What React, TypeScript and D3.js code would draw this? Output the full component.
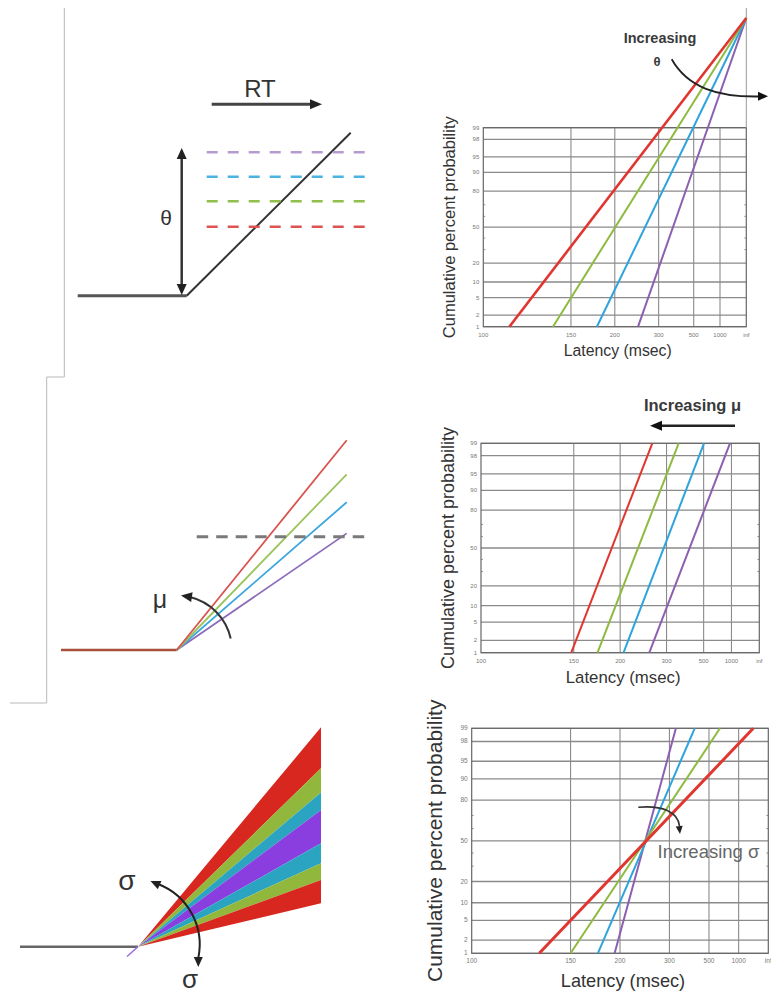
import React from "react";
import * as d3 from "d3";

// ---------- data ----------
const latencyTicks = [100, 150, 200, 300, 500, 1000, Infinity];
const latencyTickLabels = ["100", "150", "200", "300", "500", "1000", "inf"];
const probTicks = [1, 2, 5, 10, 20, 50, 80, 90, 95, 98, 99];
const probMinorTicks = [30, 40, 60, 70];
const seriesNames = ["red", "green", "blue", "purple"];
const seriesColors = ["#e0362f", "#8dba3f", "#2ea3dc", "#8d5fb0"];

// panel 1: threshold (theta) changes, lines swivel about infinite latency
const thetaLatencyAt1 = [111, 136, 176, 243];
const thetaConvergePct = 99.99995;
// panel 2: mu changes, parallel shift
const muLatencyAt1 = [148, 172, 205, 253];
const muLatencyAt99 = [260, 345, 503, 949];
// panel 3: sigma changes, swivel about median
const sigmaLatencyAt1 = [129.5, 150, 174, 193];
const sigmaLatencyAt99 = [1976, 614, 403, 321];

// schematic illustrations
const thetaLevelColors = ["#b49bd0", "#4cb2e2", "#8fc04c", "#dc5452"];
const muRiseSlopes = [1.234, 1.033, 0.869, 0.686];
const muLineColors = ["#d9534f", "#9cc45c", "#3ba7dd", "#8c6bb9"];
const sigmaFanSlopes = [1.199, 0.975, 0.842, 0.747, 0.565, 0.456, 0.364, 0.237];
const sigmaFanColors = ["#d8271f", "#91b83d", "#2aa4c1", "#8b3ee0", "#2aa4c1", "#91b83d", "#d8271f"];

// ---------- helpers ----------
function probit(p: number): number {
  const a = [-3.969683028665376e1, 2.209460984245205e2, -2.759285104469687e2, 1.38357751867269e2, -3.066479806614716e1, 2.506628277459239];
  const b = [-5.447609879822406e1, 1.615858368580409e2, -1.556989798598866e2, 6.680131188771972e1, -1.328068155288572e1];
  const c = [-7.784894002430293e-3, -3.223964580411365e-1, -2.400758277161838, -2.549732539343734, 4.374664141464968, 2.938163982698783];
  const d = [7.784695709041462e-3, 3.224671290700398e-1, 2.445134137142996, 3.754408661907416];
  const plow = 0.02425;
  if (p < plow) {
    const q = Math.sqrt(-2 * Math.log(p));
    return (((((c[0] * q + c[1]) * q + c[2]) * q + c[3]) * q + c[4]) * q + c[5]) / ((((d[0] * q + d[1]) * q + d[2]) * q + d[3]) * q + 1);
  }
  if (p <= 1 - plow) {
    const q = p - 0.5, r = q * q;
    return ((((((a[0] * r + a[1]) * r + a[2]) * r + a[3]) * r + a[4]) * r + a[5]) * q) / (((((b[0] * r + b[1]) * r + b[2]) * r + b[3]) * r + b[4]) * r + 1);
  }
  const q = Math.sqrt(-2 * Math.log(1 - p));
  return -(((((c[0] * q + c[1]) * q + c[2]) * q + c[3]) * q + c[4]) * q + c[5]) / ((((d[0] * q + d[1]) * q + d[2]) * q + d[3]) * q + 1);
}

function arrowHead(x: number, y: number, ang: number, len = 10, half = 4.5) {
  const bx = x - len * Math.cos(ang), by = y - len * Math.sin(ang);
  const px = -Math.sin(ang) * half, py = Math.cos(ang) * half;
  return `${x},${y} ${bx + px},${by + py} ${bx - px},${by - py}`;
}

const FONT = "'Liberation Sans', Arial, Helvetica, sans-serif";

type Series = { color: string; width: number; pts: [number, number][] };

function Reciprobit(props: {
  left: number; right: number; top: number; bottom: number;
  series: Series[]; tickFs: number; ylabX: number; ylabFs: number; xlabY: number; xlabFs: number;
  rightExtendTop?: number;
}) {
  const { left, right, top, bottom, series } = props;
  const x = d3.scaleLinear().domain([-1 / 100, 0]).range([left, right]);
  const y = d3.scaleLinear().domain([probit(0.01), probit(0.99)]).range([bottom, top]);
  const fx = (t: number) => x(t === Infinity ? 0 : -1 / t);
  const fy = (p: number) => y(probit(p / 100));
  const line = d3.line<[number, number]>().x((d) => fx(d[0])).y((d) => fy(d[1]));
  return (
    <g>
      {latencyTicks.slice(1, -1).map((t) => (
        <line key={"vx" + t} x1={fx(t)} x2={fx(t)} y1={top} y2={bottom} stroke="#8a8a8a" strokeWidth={1.1} />
      ))}
      {probTicks.map((p) => (
        <line key={"hy" + p} x1={left} x2={right} y1={fy(p)} y2={fy(p)} stroke="#8a8a8a" strokeWidth={1.3} />
      ))}
      {probMinorTicks.map((p) => (
        <g key={"mt" + p}>
          <line x1={left} x2={left + 2} y1={fy(p)} y2={fy(p)} stroke="#999" />
          <line x1={right - 2} x2={right} y1={fy(p)} y2={fy(p)} stroke="#999" />
        </g>
      ))}
      <rect x={left} y={top} width={right - left} height={bottom - top} fill="none" stroke="#666" strokeWidth={1.2} />
      {props.rightExtendTop !== undefined && (
        <line x1={right} x2={right} y1={props.rightExtendTop} y2={top} stroke="#999" strokeWidth={1} />
      )}
      {probTicks.map((p) => (
        <text key={"yl" + p} x={left - 4} y={fy(p) + 2} fontSize={props.tickFs} fill="#777" textAnchor="end" fontFamily={FONT}>
          {p}
        </text>
      ))}
      {latencyTicks.map((t, i) => (
        <text key={"xl" + i} x={fx(t)} y={bottom + 10} fontSize={props.tickFs} fill="#777" textAnchor="middle" fontFamily={FONT}>
          {latencyTickLabels[i]}
        </text>
      ))}
      {series.slice().reverse().map((s, i) => (
        <path key={"s" + i} d={line(s.pts) || ""} fill="none" stroke={s.color} strokeWidth={s.width} />
      ))}
      <text
        transform={`translate(${props.ylabX},${(top + bottom) / 2}) rotate(-90)`}
        fontSize={props.ylabFs} fill="#333" textAnchor="middle" fontFamily={FONT}
      >
        Cumulative percent probability
      </text>
      <text x={(left + right) / 2 + 3} y={props.xlabY} fontSize={props.xlabFs} fill="#333" textAnchor="middle" fontFamily={FONT}>
        Latency (msec)
      </text>
    </g>
  );
}

export default function App() {
  const thetaSeries: Series[] = thetaLatencyAt1.map((t, i) => ({
    color: seriesColors[i], width: i === 0 ? 2.6 : 2,
    pts: [[t, 1], [Infinity, thetaConvergePct]],
  }));
  const muSeries: Series[] = muLatencyAt1.map((t, i) => ({
    color: seriesColors[i], width: 2,
    pts: [[t, 1], [muLatencyAt99[i], 99]],
  }));
  const sigmaSeries: Series[] = sigmaLatencyAt1.map((t, i) => ({
    color: seriesColors[i], width: i === 0 ? 3 : 2,
    pts: [[t, 1], [sigmaLatencyAt99[i], 99]],
  }));

  // schematic 1
  const base1Y = 295.7, pivot1X = 186.7;
  const levels1 = [152.3, 176.7, 201.3, 226.7];
  // schematic 2
  const base2Y = 650, pivot2X = 176.7, run2 = 170;
  // schematic 3
  const apexX = 138, apexY = 946.7, fanX = 321;
  const fanYs = sigmaFanSlopes.map((s) => apexY - s * (fanX - apexX));

  return (
    <svg width={771} height={994} style={{ position: "absolute", left: 0, top: 0, background: "#fff" }}>
      <rect width={771} height={994} fill="#fff" />
      {/* panel frame remnants */}
      <path d="M64.3,8 V377 H46.7 V703 H10" fill="none" stroke="#b8b8b8" strokeWidth={1} />

      {/* ===== schematic 1: theta ===== */}
      <line x1={77.7} y1={base1Y} x2={pivot1X} y2={base1Y} stroke="#555" strokeWidth={3} />
      <line x1={pivot1X} y1={base1Y} x2={350.7} y2={132.7} stroke="#333" strokeWidth={2} />
      {levels1.map((ly, i) => (
        <line key={"lv" + i} x1={206.7} x2={368.3} y1={ly} y2={ly} stroke={thetaLevelColors[i]} strokeWidth={2.5} strokeDasharray="11 10" />
      ))}
      <line x1={181.7} x2={181.7} y1={156} y2={287} stroke="#333" strokeWidth={2.5} />
      <polygon points={arrowHead(181.7, 148, -Math.PI / 2, 11, 5)} fill="#222" />
      <polygon points={arrowHead(181.7, 295, Math.PI / 2, 11, 5)} fill="#222" />
      <text x={166} y={224.5} fontSize={21} textAnchor="middle" fill="#333" fontFamily={FONT}>θ</text>
      <text x={260} y={96.5} fontSize={24} textAnchor="middle" fill="#333" fontFamily={FONT}>RT</text>
      <line x1={211.7} x2={311} y1={104.3} y2={104.3} stroke="#444" strokeWidth={3} />
      <polygon points={arrowHead(322, 104.3, 0, 12, 5)} fill="#222" />

      {/* ===== schematic 2: mu ===== */}
      <line x1={61} y1={base2Y} x2={pivot2X} y2={base2Y} stroke="#a8503a" strokeWidth={2.5} />
      {muRiseSlopes.slice().reverse().map((s, j) => {
        const i = muRiseSlopes.length - 1 - j;
        return (
          <line key={"mu" + i} x1={pivot2X} y1={base2Y} x2={pivot2X + run2} y2={base2Y - s * run2} stroke={muLineColors[i]} strokeWidth={1.8} />
        );
      })}
      <line x1={196.7} x2={366.7} y1={536.7} y2={536.7} stroke="#7a7a7a" strokeWidth={3} strokeDasharray="11.5 8" />
      <text x={160} y={608} fontSize={25} textAnchor="middle" fill="#333" fontFamily={FONT}>μ</text>
      <path d="M230.7,638.5 A55,55 0 0,0 190,597" fill="none" stroke="#333" strokeWidth={2} />
      <polygon points={arrowHead(181, 595.5, Math.atan2(-0.15, -1), 11, 5)} fill="#222" />

      {/* ===== schematic 3: sigma ===== */}
      <line x1={20} y1={apexY} x2={apexX} y2={apexY} stroke="#666" strokeWidth={2.5} />
      {sigmaFanColors.map((c, i) => (
        <polygon key={"fan" + i} points={`${apexX},${apexY} ${fanX},${fanYs[i]} ${fanX},${fanYs[i + 1]}`} fill={c} />
      ))}
      <line x1={apexX} y1={apexY} x2={127} y2={956.5} stroke="#9a6ae6" strokeWidth={1.5} />
      <text x={127} y={890} fontSize={28} textAnchor="middle" fill="#333" fontFamily={FONT}>σ</text>
      <text x={190} y={987.5} fontSize={26} textAnchor="middle" fill="#333" fontFamily={FONT}>σ</text>
      <path d="M158,884 A65,65 0 0,1 198.3,958" fill="none" stroke="#222" strokeWidth={2} />
      <polygon points={arrowHead(150.5, 881, Math.atan2(-0.45, -1), 10, 4.5)} fill="#222" />
      <polygon points={arrowHead(198.3, 967, Math.PI / 2, 10, 4.5)} fill="#222" />

      {/* ===== reciprobit charts ===== */}
      <Reciprobit left={483.3} right={746.3} top={127.7} bottom={326.7} series={thetaSeries}
        tickFs={6} ylabX={455} ylabFs={16.5} xlabY={355.5} xlabFs={15.8} rightExtendTop={8} />
      <Reciprobit left={481} right={759.3} top={443.3} bottom={652.7} series={muSeries}
        tickFs={6} ylabX={453.5} ylabFs={18} xlabY={682.5} xlabFs={16.8} />
      <Reciprobit left={471.7} right={768.3} top={728.3} bottom={953.3} series={sigmaSeries}
        tickFs={6.5} ylabX={441.5} ylabFs={21} xlabY={986.5} xlabFs={18.2} />

      {/* annotations */}
      <text x={660} y={43} fontSize={14.5} fontWeight="bold" textAnchor="middle" fill="#3a3a3a" fontFamily={FONT}>Increasing</text>
      <text x={657} y={66} fontSize={13} fontWeight="bold" textAnchor="middle" fill="#3a3a3a" fontFamily={FONT}>θ</text>
      <path d="M671.7,59.3 C688,88 718,97 758,96.5" fill="none" stroke="#222" strokeWidth={1.8} />
      <polygon points={arrowHead(768, 96.3, 0, 10, 4.5)} fill="#111" />

      <text x={692.5} y={410.5} fontSize={16.5} fontWeight="bold" textAnchor="middle" fill="#3a3a3a" fontFamily={FONT}>Increasing μ</text>
      <line x1={735} x2={660} y1={425.7} y2={425.7} stroke="#222" strokeWidth={2.5} />
      <polygon points={arrowHead(650, 425.7, Math.PI, 12, 5)} fill="#111" />

      <text x={708.5} y={858} fontSize={18.5} textAnchor="middle" fill="#666" fontFamily={FONT}>Increasing σ</text>
      <path d="M638.3,807.3 C662,805 678,812 679.5,826" fill="none" stroke="#333" strokeWidth={1.6} />
      <polygon points={arrowHead(680, 834, Math.PI / 2 - 0.1, 8, 3.5)} fill="#222" />
    </svg>
  );
}
